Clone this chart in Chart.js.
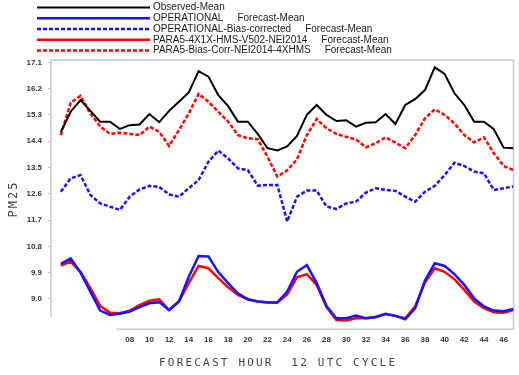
<!DOCTYPE html>
<html>
<head>
<meta charset="utf-8">
<script src="https://cdn.jsdelivr.net/npm/chart.js@4/dist/chart.umd.min.js"></script>
<style>
  body { margin: 0; background: #fff; }
  canvas { display: block; }
</style>
</head>
<body>
<canvas id="chart" width="519" height="375"></canvas>
<script>
// forecast hours (12 UTC cycle)
const hours = [1, 2, 3, 4, 5, 6, 7, 8, 9, 10, 11, 12, 13, 14, 15, 16, 17, 18, 19, 20,
  21, 22, 23, 24, 25, 26, 27, 28, 29, 30, 31, 32, 33, 34, 35, 36, 37, 38, 39, 40,
  41, 42, 43, 44, 45, 46, 47]

// series values
const observed = [14.72, 15.41, 15.81, 15.44, 15.07, 15.07, 14.82, 14.95, 14.97, 15.33,
  15.05, 15.44, 15.75, 16.07, 16.80, 16.61, 15.98, 15.60, 15.07, 15.07,
  14.65, 14.16, 14.08, 14.22, 14.58, 15.30, 15.64, 15.30, 15.09, 15.12,
  14.90, 15.03, 15.05, 15.33, 14.99, 15.64, 15.84, 16.15, 16.93, 16.70,
  16.04, 15.64, 15.07, 15.07, 14.81, 14.18, 14.16]
const operational = [10.20, 10.39, 9.90, 9.25, 8.60, 8.45, 8.49, 8.57, 8.72, 8.85,
  8.89, 8.62, 8.91, 9.76, 10.47, 10.45, 9.92, 9.54, 9.19, 8.99,
  8.91, 8.88, 8.88, 9.25, 9.93, 10.16, 9.54, 8.76, 8.34, 8.34,
  8.43, 8.34, 8.37, 8.49, 8.42, 8.30, 8.68, 9.63, 10.22, 10.13,
  9.85, 9.48, 9.02, 8.74, 8.60, 8.58, 8.66]
const operationalBias = [12.67, 13.13, 13.24, 12.56, 12.27, 12.16, 12.05, 12.50, 12.75, 12.87,
  12.83, 12.58, 12.50, 12.79, 13.07, 13.70, 14.08, 13.81, 13.47, 13.41,
  12.88, 12.90, 12.90, 11.65, 12.50, 12.71, 12.71, 12.16, 12.08, 12.27,
  12.33, 12.64, 12.79, 12.73, 12.70, 12.50, 12.33, 12.67, 12.87, 13.24,
  13.66, 13.55, 13.36, 13.30, 12.73, 12.79, 12.85]
const para5 = [10.14, 10.28, 9.93, 9.37, 8.76, 8.53, 8.51, 8.60, 8.79, 8.94,
  8.99, 8.62, 8.91, 9.54, 10.13, 10.05, 9.71, 9.40, 9.14, 8.99,
  8.91, 8.89, 8.88, 9.15, 9.74, 9.85, 9.48, 8.72, 8.28, 8.26,
  8.34, 8.34, 8.39, 8.48, 8.42, 8.34, 8.74, 9.56, 10.05, 9.93,
  9.67, 9.31, 8.91, 8.68, 8.54, 8.53, 8.62]
const para5Bias = [14.61, 15.72, 15.95, 15.35, 14.90, 14.65, 14.69, 14.65, 14.61, 14.90,
  14.72, 14.24, 14.78, 15.35, 16.02, 15.75, 15.41, 15.07, 14.61, 14.50,
  14.47, 13.87, 13.19, 13.40, 13.78, 14.61, 15.16, 14.84, 14.65, 14.55,
  14.46, 14.19, 14.33, 14.53, 14.35, 14.16, 14.61, 15.18, 15.49, 15.30,
  15.01, 14.61, 14.36, 14.53, 13.99, 13.55, 13.41]

// legend names and their suffix
const seriesNames = ['Observed-Mean', 'OPERATIONAL', 'OPERATIONAL-Bias-corrected',
  'PARA5-4X1X-HMS-V502-NEI2014', 'PARA5-Bias-Corr-NEI2014-4XHMS']
const seriesSuffix = ['', 'Forecast-Mean', 'Forecast-Mean', 'Forecast-Mean', 'Forecast-Mean']

// tick labels
const yTicks = [9.0, 9.9, 10.8, 11.7, 12.6, 13.5, 14.4, 15.3, 16.2, 17.1]
const xTicks = [8, 10, 12, 14, 16, 18, 20, 22, 24, 26, 28, 30, 32, 34, 36, 38, 40, 42, 44, 46]

const xTitle = 'FORECAST HOUR  12 UTC CYCLE'
const yTitle = 'PM25'

function pts(values) {
  return values.map((v, i) => ({ x: hours[i], y: v }))
}

//draws the legend rows above the plot
const legendPlugin = {
  id: 'rowLegend',
  afterDraw(chart) {
    const ctx = chart.ctx
    ctx.save()
    ctx.font = '10px "Liberation Sans", Arial, sans-serif'
    ctx.textBaseline = 'middle'
    ctx.fillStyle = '#1a1a1a'
    chart.data.datasets.forEach((ds, i) => {
      const y = 7.5 + i * 10.75
      ctx.strokeStyle = ds.borderColor
      ctx.lineWidth = ds.borderWidth
      ctx.setLineDash(ds.borderDash || [])
      ctx.beginPath()
      ctx.moveTo(37, y)
      ctx.lineTo(150, y)
      ctx.stroke()
      ctx.setLineDash([])
      ctx.fillText(seriesNames[i], 153, y)
      if (seriesSuffix[i]) {
        const w = ctx.measureText(seriesNames[i]).width
        ctx.fillText(seriesSuffix[i], 153 + w + 14, y)
      }
    })
    ctx.restore()
  }
}

//draws the gray frame and the spaced axis titles
const framePlugin = {
  id: 'frame',
  beforeDatasetsDraw(chart) {
    const ctx = chart.ctx
    const a = chart.chartArea
    const xs = chart.scales.x
    const ys = chart.scales.y
    ctx.save()
    ctx.strokeStyle = '#c8c8c8'
    ctx.lineWidth = 1.5
    ctx.beginPath()
    ctx.moveTo(a.left, a.top)
    ctx.lineTo(a.right, a.top)
    ctx.moveTo(a.left, a.top)
    ctx.lineTo(a.left, ys.getPixelForValue(8.38))
    ctx.moveTo(a.right, a.top)
    ctx.lineTo(a.right, a.bottom)
    ctx.moveTo(xs.getPixelForValue(6.65), a.bottom)
    ctx.lineTo(a.right, a.bottom)
    ctx.stroke()

    ctx.fillStyle = '#444'
    ctx.font = '11px "DejaVu Sans Mono", monospace'
    ctx.letterSpacing = '2.2px'
    ctx.textBaseline = 'middle'
    ctx.textAlign = 'left'
    ctx.fillText(xTitle, 159, 363)

    ctx.letterSpacing = '2px'
    ctx.translate(14, 199)
    ctx.rotate(-Math.PI / 2)
    ctx.textAlign = 'center'
    ctx.font = '12px "DejaVu Sans Mono", monospace'
    ctx.fillText(yTitle, 0, 0)
    ctx.restore()
  }
}

const graph = document.getElementById('chart')

const myChart = new Chart(graph, {
  type: 'line',
  data: {
    datasets: [
      { label: seriesNames[0], data: pts(observed), borderColor: '#000000', borderWidth: 2 },
      { label: seriesNames[1], data: pts(operational), borderColor: '#1414ff', borderWidth: 2.5 },
      { label: seriesNames[2], data: pts(operationalBias), borderColor: '#1414ff', borderWidth: 2.5, borderDash: [4, 2] },
      { label: seriesNames[3], data: pts(para5), borderColor: '#ff0000', borderWidth: 2.5 },
      { label: seriesNames[4], data: pts(para5Bias), borderColor: '#ff0000', borderWidth: 2.5, borderDash: [4, 2] }
    ]
  },
  options: {
    responsive: false,
    animation: false,
    devicePixelRatio: 1,
    layout: { padding: { top: 60, right: 5.5, left: 0, bottom: 0 } },
    elements: {
      point: { radius: 0 },
      line: { tension: 0, fill: false }
    },
    plugins: {
      legend: { display: false },
      tooltip: { enabled: false }
    },
    scales: {
      x: {
        type: 'linear',
        min: 0,
        max: 47,
        grid: { display: false, drawTicks: false },
        border: { display: false },
        afterBuildTicks: (scale) => { scale.ticks = xTicks.map(v => ({ value: v })) },
        afterFit: (scale) => { scale.height = 45.7 },
        ticks: {
          autoSkip: false,
          maxRotation: 0,
          padding: 6,
          color: '#333',
          font: { family: '"Liberation Sans", Arial, sans-serif', size: 8, weight: 'bold' },
          callback: (value) => String(value).padStart(2, '0')
        }
      },
      y: {
        min: 7.96,
        max: 17.18,
        grid: { display: true, drawOnChartArea: false, drawTicks: true, tickLength: 3, color: '#c8c8c8' },
        border: { display: false },
        afterBuildTicks: (scale) => { scale.ticks = yTicks.map(v => ({ value: v })) },
        afterFit: (scale) => { scale.width = 51 },
        ticks: {
          padding: 6,
          color: '#333',
          font: { family: '"Liberation Sans", Arial, sans-serif', size: 8, weight: 'bold' },
          callback: (value) => value.toFixed(1)
        }
      }
    }
  },
  plugins: [framePlugin, legendPlugin]
})
</script>
</body>
</html>
